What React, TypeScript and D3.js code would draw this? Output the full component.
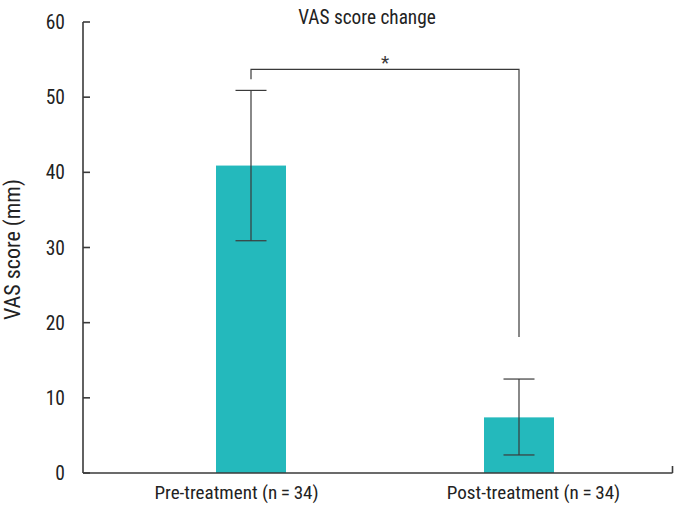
import React from "react";
import * as d3 from "d3";

const categories = ["Pre-treatment (n\u2009=\u200934)", "Post-treatment (n\u2009=\u200934)"];
const means = [40.9, 7.4];
const errLow = [30.9, 2.4];
const errHigh = [50.9, 12.5];
const yTicks = [0, 10, 20, 30, 40, 50, 60];
const bracketValues = { top: 53.7, leftEnd: 52.4, rightEnd: 18.1 };
const title = "VAS score change";
const yLabel = "VAS score (mm)";
const sigLabel = "*";

const W = 680;
const H = 505;
const FONT = "'Liberation Sans Narrow', 'Roboto Condensed', 'Arial Narrow', 'Liberation Sans', sans-serif";
const TEAL = "#24B9BC";
const INK = "#3a3a3a";

export default function App() {
  const cx = d3.scalePoint<string>().domain(categories).range([251, 519]);
  const barW = 70;
  const y = d3.scaleLinear().domain([0, 60]).range([473, 22]);
  const capW = 31;
  const axisLeft = 83;
  const axisRight = 672.5;
  const labelShift = [-14.5, 14.5];

  return (
    <svg width={W} height={H} style={{ display: "block", position: "absolute", left: 0, top: 0 }} fontFamily={FONT}>
      <rect x={0} y={0} width={W} height={H} fill="#fff" />
      {categories.map((c, i) => (
        <rect key={c} x={(cx(c) as number) - barW / 2} y={y(means[i])} width={barW} height={y(0) - y(means[i])} fill={TEAL} />
      ))}
      {categories.map((c, i) => {
        const xc = cx(c) as number;
        return (
          <g key={"e" + c} stroke={INK} strokeWidth={1.2}>
            <line x1={xc} x2={xc} y1={y(errLow[i])} y2={y(errHigh[i])} />
            <line x1={xc - capW / 2} x2={xc + capW / 2} y1={y(errLow[i])} y2={y(errLow[i])} />
            <line x1={xc - capW / 2} x2={xc + capW / 2} y1={y(errHigh[i])} y2={y(errHigh[i])} />
          </g>
        );
      })}
      <path
        d={`M${cx(categories[0])},${y(bracketValues.leftEnd)}V${y(bracketValues.top)}H${cx(categories[1])}V${y(bracketValues.rightEnd)}`}
        fill="none"
        stroke={INK}
        strokeWidth={1.2}
      />
      <text x={385} y={69} textAnchor="middle" fontSize={19} fill={INK}>
        {sigLabel}
      </text>
      <g stroke={INK} strokeWidth={1.6} fill="none">
        <line x1={axisLeft} x2={axisLeft} y1={y(60)} y2={y(0)} />
        <line x1={axisLeft} x2={axisRight} y1={y(0)} y2={y(0)} />
        <line x1={axisRight} x2={axisRight} y1={y(0)} y2={y(0) - 7} />
        {yTicks.map((t) => (
          <line key={t} x1={axisLeft} x2={axisLeft + 7} y1={y(t)} y2={y(t)} />
        ))}
      </g>
      {yTicks.map((t) => (
        <text key={"t" + t} x={65} y={y(t)} dy="0.36em" textAnchor="end" fontSize={19.5} fill="#222">
          {t}
        </text>
      ))}
      {categories.map((c, i) => (
        <text key={"l" + c} x={(cx(c) as number) + labelShift[i]} y={499} textAnchor="middle" fontSize={19.1} fill="#222">
          {c}
        </text>
      ))}
      <text x={367} y={24} textAnchor="middle" fontSize={19.3} fill="#222">
        {title}
      </text>
      <text transform={`translate(20,249.5) rotate(-90)`} textAnchor="middle" fontSize={22} fill="#222">
        {yLabel}
      </text>
    </svg>
  );
}
